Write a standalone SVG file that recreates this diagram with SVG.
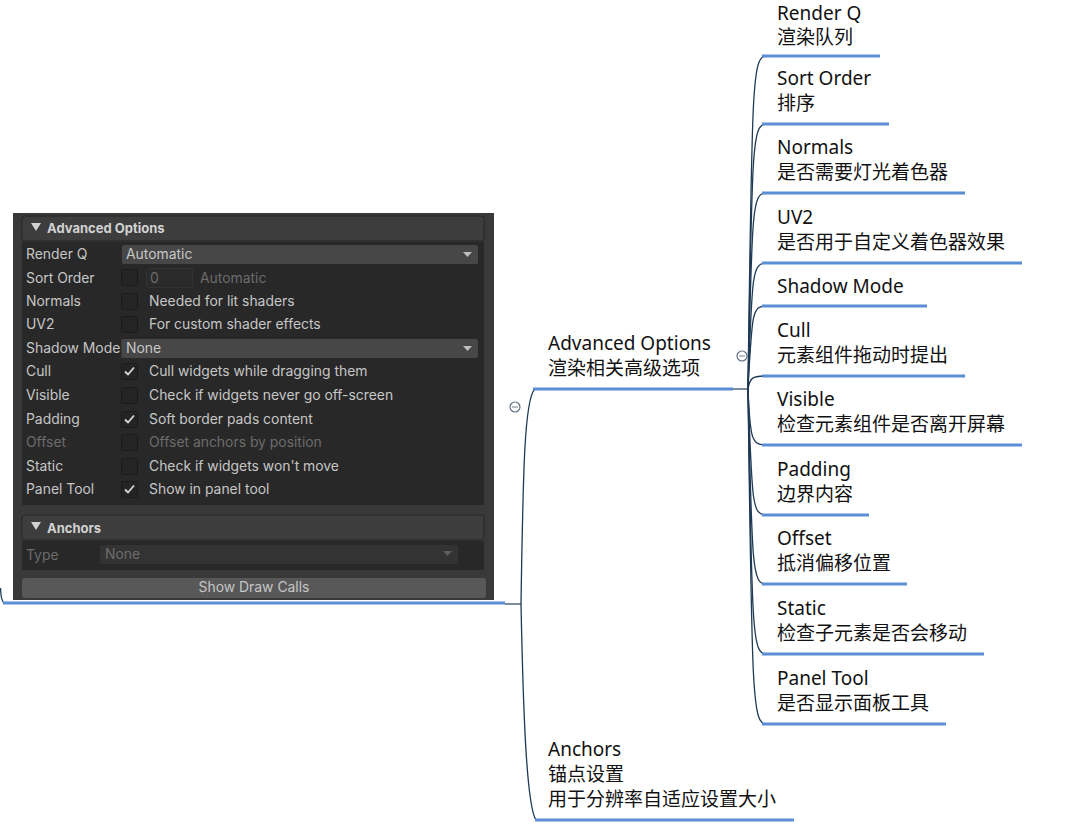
<svg xmlns="http://www.w3.org/2000/svg" width="1083" height="836" viewBox="0 0 1083 836">
<style>
.t{font-family:"Noto Sans","Noto Sans CJK SC",sans-serif;font-size:19px;fill:#111}
.ul{stroke:#5b8ed6;stroke-width:3;fill:none}
.cn{stroke:#1f3a55;stroke-width:1.3;fill:none}
.stub{stroke:#7d8c9a;stroke-width:2;fill:none}
.u{font-family:Inter,"Liberation Sans",sans-serif;font-size:13.9px;fill:#c6c6c6}
.ud{fill:#6c6c6c}
.hb{font-family:Inter,"Liberation Sans",sans-serif;font-size:13px;font-weight:bold;fill:#d2d2d2}
.cb{fill:#242424;stroke:#1b1b1b;stroke-width:1}
.ck{stroke:#d8d8d8;stroke-width:1.8;fill:none}
.dd{fill:#474747}
.col{fill:#fff;stroke:#5d6e80;stroke-width:1.2}
</style>
<rect width="1083" height="836" fill="#fff"/>
<g id="connectors">
<path class="cn" d="M0.5,588 Q1,601 4,603"/>
<path class="stub" d="M505,604 H521"/>
<path class="cn" d="M521,604 C523,480 524,398 535,389"/>
<path class="cn" d="M521,604 C523,700 526,805 536,820"/>
<path class="stub" d="M733,389 H748"/>
<path class="cn" d="M748,389 C752,89 752,56 766,56"/>
<path class="cn" d="M748,389 C752,150 752,124 766,124"/>
<path class="cn" d="M748,389 C752,212 752,193 766,193"/>
<path class="cn" d="M748,389 C752,276 752,263 766,263"/>
<path class="cn" d="M748,389 C752,314 752,306 766,306"/>
<path class="cn" d="M748,389 C750,378 752,376 766,376"/>
<path class="cn" d="M748,389 C750,440 752,445 766,445"/>
<path class="cn" d="M748,389 C752,502 752,515 766,515"/>
<path class="cn" d="M748,389 C752,565 752,584 766,584"/>
<path class="cn" d="M748,389 C752,628 752,654 766,654"/>
<path class="cn" d="M748,389 C752,690 752,724 766,724"/>
<circle class="col" cx="515" cy="407" r="5"/>
<path d="M512,407 H518" stroke="#8a96a3" stroke-width="1.2"/>
<circle class="col" cx="742" cy="356" r="5"/>
<path d="M739,356 H745" stroke="#8a96a3" stroke-width="1.2"/>
</g>
<g id="node-root">
<rect x="13" y="213" width="481" height="387" fill="#393939"/>
<rect x="22" y="216" width="462" height="25" rx="3" fill="#3d3d3d" stroke="#262626"/>
<path d="M31,223 H41 L36,231 Z" fill="#d2d2d2"/>
<text class="hb" x="47" y="233">Advanced Options</text>
<rect x="22" y="242" width="462" height="263" fill="#282828"/>
<rect class="dd" x="122" y="245" width="356" height="19" rx="2"/>
<text class="u" x="26" y="259">Render Q</text>
<text class="u" x="126" y="259" fill="#d4d4d4">Automatic</text>
<path d="M463,252 H472 L467.5,257 Z" fill="#bdbdbd"/>
<text class="u" x="26" y="283">Sort Order</text>
<rect class="cb" x="121.5" y="269.5" width="16" height="16" rx="2" fill="#2c2c2c" stroke="#262626"/>
<rect x="146.5" y="268.5" width="46" height="19" rx="2" fill="#2a2a2a" stroke="#333"/>
<text class="u ud" x="150" y="283">0</text>
<text class="u ud" x="200" y="283">Automatic</text>
<text class="u" x="26" y="306">Normals</text>
<rect class="cb" x="121.5" y="293.5" width="16" height="16" rx="2"/>
<text class="u" x="149" y="306">Needed for lit shaders</text>
<text class="u" x="26" y="329">UV2</text>
<rect class="cb" x="121.5" y="316.5" width="16" height="16" rx="2"/>
<text class="u" x="149" y="329">For custom shader effects</text>
<rect class="dd" x="122" y="339" width="356" height="19" rx="2"/>
<text class="u" x="26" y="353">Shadow Mode</text>
<rect x="121" y="339" width="1" height="19" fill="#393939"/>
<text class="u" x="126" y="353" fill="#d4d4d4">None</text>
<path d="M463,346 H472 L467.5,351 Z" fill="#bdbdbd"/>
<text class="u" x="26" y="376">Cull</text>
<rect class="cb" x="121.5" y="363.5" width="16" height="16" rx="2"/>
<path class="ck" d="M125,371.5 L128,374.5 L134,367.5"/>
<text class="u" x="149" y="376">Cull widgets while dragging them</text>
<text class="u" x="26" y="400">Visible</text>
<rect class="cb" x="121.5" y="387.5" width="16" height="16" rx="2"/>
<text class="u" x="149" y="400">Check if widgets never go off-screen</text>
<text class="u" x="26" y="424">Padding</text>
<rect class="cb" x="121.5" y="411.5" width="16" height="16" rx="2"/>
<path class="ck" d="M125,419.5 L128,422.5 L134,415.5"/>
<text class="u" x="149" y="424">Soft border pads content</text>
<text class="u ud" x="26" y="447">Offset</text>
<rect class="cb" x="121.5" y="434.5" width="16" height="16" rx="2" fill="#2b2b2b" stroke="#262626"/>
<text class="u ud" x="149" y="447">Offset anchors by position</text>
<text class="u" x="26" y="471">Static</text>
<rect class="cb" x="121.5" y="458.5" width="16" height="16" rx="2"/>
<text class="u" x="149" y="471">Check if widgets won't move</text>
<text class="u" x="26" y="494">Panel Tool</text>
<rect class="cb" x="121.5" y="481.5" width="16" height="16" rx="2"/>
<path class="ck" d="M125,489.5 L128,492.5 L134,485.5"/>
<text class="u" x="149" y="494">Show in panel tool</text>
<rect x="22" y="515" width="462" height="25" rx="3" fill="#3d3d3d" stroke="#262626"/>
<path d="M31,522 H41 L36,530 Z" fill="#d2d2d2"/>
<text class="hb" x="47" y="533">Anchors</text>
<rect x="22" y="541" width="462" height="29" fill="#282828"/>
<text class="u ud" x="26" y="560">Type</text>
<rect x="100" y="545" width="358" height="19" rx="2" fill="#333333"/>
<text class="u ud" x="105" y="559">None</text>
<path d="M443,551 H452 L447.5,556 Z" fill="#5e5e5e"/>
<rect x="22" y="578" width="464" height="20" rx="3" fill="#585858"/>
<text class="u" x="254" y="592" text-anchor="middle" fill="#e2e2e2">Show Draw Calls</text>
<path class="ul" d="M3,603 H505"/>
</g>
<g id="node-advanced">
<text class="t" x="548" y="350">Advanced Options</text>
<text class="t" x="548" y="375">渲染相关高级选项</text>
<path class="ul" d="M533,389 H733"/>
</g>
<g id="node-anchors">
<text class="t" x="548" y="756">Anchors</text>
<text class="t" x="548" y="781">锚点设置</text>
<text class="t" x="548" y="806">用于分辨率自适应设置大小</text>
<path class="ul" d="M535,820 H794"/>
</g>
<g id="node-renderq">
<text class="t" x="777" y="20">Render Q</text>
<text class="t" x="777" y="44">渲染队列</text>
<path class="ul" d="M762,56 H880"/>
</g>
<g id="node-sortorder">
<text class="t" x="777" y="85">Sort Order</text>
<text class="t" x="777" y="110">排序</text>
<path class="ul" d="M762,124 H889"/>
</g>
<g id="node-normals">
<text class="t" x="777" y="154">Normals</text>
<text class="t" x="777" y="179">是否需要灯光着色器</text>
<path class="ul" d="M762,193 H965"/>
</g>
<g id="node-uv2">
<text class="t" x="777" y="224">UV2</text>
<text class="t" x="777" y="249">是否用于自定义着色器效果</text>
<path class="ul" d="M762,263 H1022"/>
</g>
<g id="node-shadowmode">
<text class="t" x="777" y="293">Shadow Mode</text>
<path class="ul" d="M762,306 H927"/>
</g>
<g id="node-cull">
<text class="t" x="777" y="337">Cull</text>
<text class="t" x="777" y="362">元素组件拖动时提出</text>
<path class="ul" d="M762,376 H965"/>
</g>
<g id="node-visible">
<text class="t" x="777" y="406">Visible</text>
<text class="t" x="777" y="431">检查元素组件是否离开屏幕</text>
<path class="ul" d="M762,445 H1022"/>
</g>
<g id="node-padding">
<text class="t" x="777" y="476">Padding</text>
<text class="t" x="777" y="501">边界内容</text>
<path class="ul" d="M762,515 H869"/>
</g>
<g id="node-offset">
<text class="t" x="777" y="545">Offset</text>
<text class="t" x="777" y="570">抵消偏移位置</text>
<path class="ul" d="M762,584 H907"/>
</g>
<g id="node-static">
<text class="t" x="777" y="615">Static</text>
<text class="t" x="777" y="640">检查子元素是否会移动</text>
<path class="ul" d="M762,654 H984"/>
</g>
<g id="node-paneltool">
<text class="t" x="777" y="685">Panel Tool</text>
<text class="t" x="777" y="710">是否显示面板工具</text>
<path class="ul" d="M762,724 H946"/>
</g>
</svg>
